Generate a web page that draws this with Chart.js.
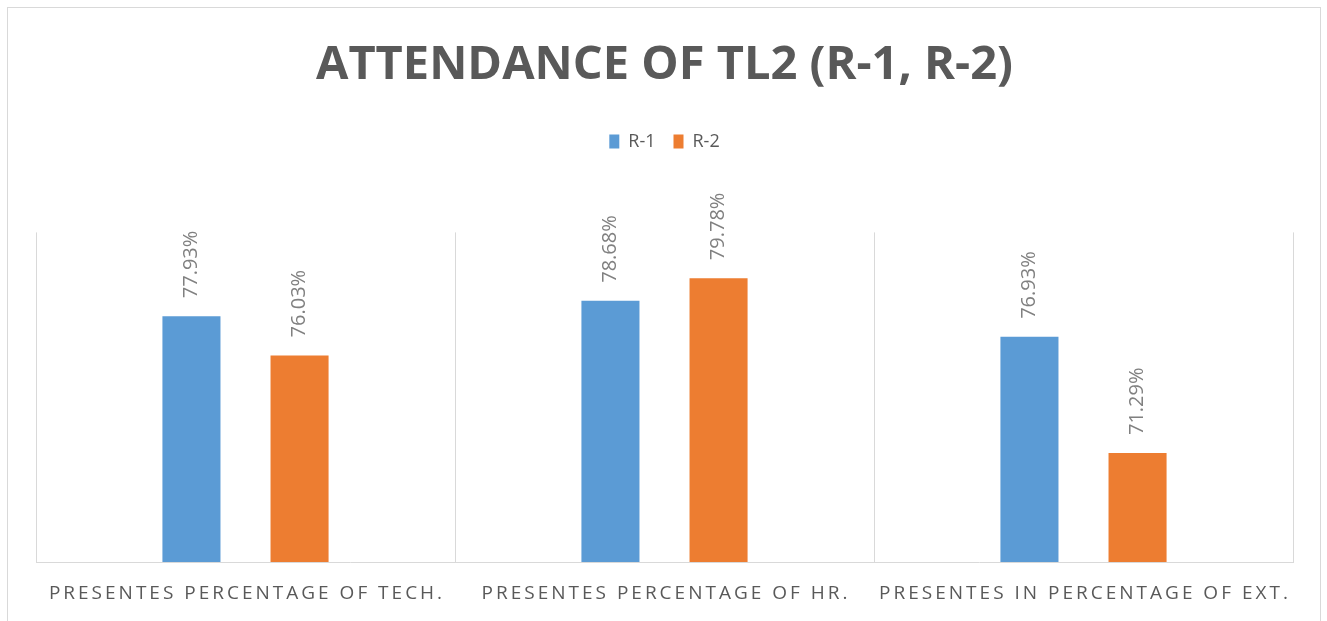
<!DOCTYPE html>
<html>
<head>
<meta charset="utf-8">
<script src="https://cdn.jsdelivr.net/npm/chart.js@4.4.1/dist/chart.umd.min.js"></script>
<style>
  html, body { margin: 0; padding: 0; background: #fff; }
  #wrap { width: 1327px; height: 621px; position: relative; }
</style>
</head>
<body>
<div id="wrap"><canvas id="chart"></canvas></div>
<script>
// chart data
const categories = ['PRESENTES PERCENTAGE OF TECH.', 'PRESENTES PERCENTAGE OF HR.', 'PRESENTES IN PERCENTAGE OF EXT.'];
const seriesNames = ['R-1', 'R-2'];
const r1Values = [77.93, 78.68, 76.93];
const r2Values = [76.03, 79.78, 71.29];
const seriesColors = ['#5b9bd5', '#ed7d31'];

const FONT = '"Open Sans", sans-serif';

// outer frame like the office chart border
const framePlugin = {
    id: 'frame',
    beforeDraw(chart) {
        const ctx = chart.ctx;
        ctx.save();
        ctx.fillStyle = '#fff';
        ctx.fillRect(0, 0, chart.width, chart.height);
        ctx.strokeStyle = '#d9d9d9';
        ctx.lineWidth = 1;
        ctx.strokeRect(7.5, 7.5, 1313, 640);
        ctx.restore();
    }
};

// extra room below the legend
const legendGap = {
    id: 'legendGap',
    beforeInit(chart) {
        const fit = chart.legend.fit;
        chart.legend.fit = function () {
            fit.bind(chart.legend)();
            this.height += 72;
        };
    }
};

// rotated value labels + spaced category labels
const labelPlugin = {
    id: 'labels',
    afterDatasetsDraw(chart) {
        const ctx = chart.ctx;
        ctx.save();
        ctx.fillStyle = '#808080';
        ctx.font = '20px ' + FONT;
        ctx.textAlign = 'left';
        ctx.textBaseline = 'middle';
        chart.data.datasets.forEach((ds, i) => {
            chart.getDatasetMeta(i).data.forEach((bar, j) => {
                ctx.save();
                ctx.translate(bar.x, bar.y - 18);
                ctx.rotate(-Math.PI / 2);
                ctx.fillText(ds.data[j].toFixed(2) + '%', 0, 0);
                ctx.restore();
            });
        });
        const xs = chart.scales.x;
        ctx.fillStyle = '#595959';
        ctx.font = '19px ' + FONT;
        ctx.textAlign = 'center';
        ctx.letterSpacing = '3px';
        categories.forEach((c, i) => {
            ctx.fillText(c, xs.getPixelForValue(i) + 1.5, 594);
        });
        ctx.restore();
    }
};

new Chart(document.getElementById('chart'), {
    type: 'bar',
    data: {
        labels: categories,
        datasets: [
            { label: seriesNames[0], data: r1Values, backgroundColor: seriesColors[0] },
            { label: seriesNames[1], data: r2Values, backgroundColor: seriesColors[1] }
        ]
    },
    options: {
        responsive: true,
        maintainAspectRatio: false,
        animation: false,
        layout: { padding: { left: 36, right: 34, top: 0, bottom: 59 } },
        datasets: {
            bar: { categoryPercentage: 0.516, barPercentage: 0.537 }
        },
        scales: {
            x: {
                grid: { display: true, offset: true, color: '#d9d9d9', drawTicks: false },
                border: { display: true, color: '#d9d9d9' },
                ticks: { display: false }
            },
            y: {
                display: false,
                min: 66,
                max: 82
            }
        },
        plugins: {
            title: {
                display: true,
                text: 'ATTENDANCE OF TL2 (R-1, R-2)',
                color: '#595959',
                font: { family: FONT, size: 47, weight: 'bold' },
                padding: { top: 37, bottom: 21 }
            },
            legend: {
                display: true,
                labels: {
                    color: '#595959',
                    font: { family: FONT, size: 18 },
                    boxWidth: 10,
                    boxHeight: 14,
                    padding: 18
                }
            },
            tooltip: { enabled: false }
        }
    },
    plugins: [framePlugin, legendGap, labelPlugin]
});
</script>
</body>
</html>
